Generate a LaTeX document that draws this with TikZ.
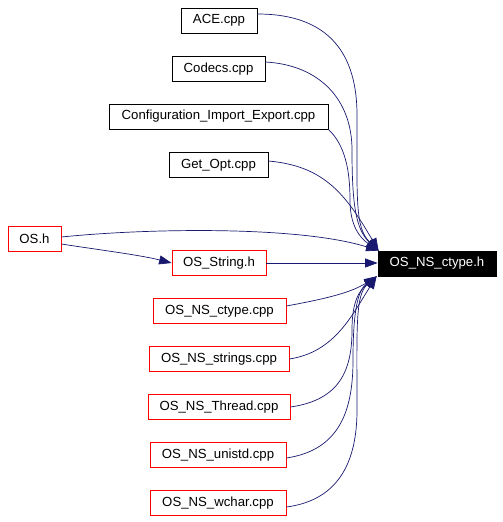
\documentclass[tikz,border=0pt]{standalone}
\usepackage{fontspec}
\setmainfont{Liberation Sans}
\usetikzlibrary{arrows.meta}
\definecolor{edgeblue}{RGB}{25,25,112}
\tikzset{
  box/.style={draw=black, line width=0.8pt, inner sep=0pt, minimum height=25pt, font=\fontsize{13.2}{15}\selectfont, anchor=center},
  redbox/.style={box, draw=red},
  mainbox/.style={box, draw=black, fill=black, text=white},
  dep/.style={draw=edgeblue, line width=0.7pt, -{Triangle[length=12.5pt,width=9pt]}},
}
\begin{document}
\begin{tikzpicture}[x=1pt,y=-1pt]
\useasboundingbox[fill=white] (0,0) rectangle (503,522);
\node[box, minimum width=76pt] (ace) at (219,20.5) {ACE.cpp};
\node[box, minimum width=93pt] (codecs) at (218.5,69) {Codecs.cpp};
\node[box, minimum width=219pt] (config) at (218.5,116.5) {Configuration\_Import\_Export.cpp};
\node[box, minimum width=99pt] (getopt) at (218.5,165) {Get\_Opt.cpp};
\node[redbox, minimum width=53pt] (osh) at (34.5,239) {OS.h};
\node[redbox, minimum width=94pt] (osstring) at (219,263) {OS\_String.h};
\node[mainbox, minimum width=118pt] (ctypeh) at (437,263.5) {OS\_NS\_ctype.h};
\node[redbox, minimum width=133pt] (ctypecpp) at (219.5,311) {OS\_NS\_ctype.cpp};
\node[redbox, minimum width=140pt] (strings) at (219,359) {OS\_NS\_strings.cpp};
\node[redbox, minimum width=142pt] (thread) at (219,407) {OS\_NS\_Thread.cpp};
\node[redbox, minimum width=136pt] (unistd) at (218,455) {OS\_NS\_unistd.cpp};
\node[redbox, minimum width=136pt] (wchar) at (218,503) {OS\_NS\_wchar.cpp};

\coordinate (tipT) at ([xshift=1pt]ctypeh.north west);
\coordinate (tipB) at ([xshift=-1pt]ctypeh.south west);

\draw[dep] ([yshift=6.5pt]ace.east) .. controls (330,14) and (357,55) .. (357,115) .. controls (357,200) and (355,228) .. (tipT);
\draw[dep] ([yshift=7pt]codecs.east) .. controls (320,65) and (352,100) .. (352,150) .. controls (352,205) and (356,230) .. (tipT);
\draw[dep] (config.south east) .. controls (345,145) and (350,170) .. (350,200) .. controls (350,226) and (360,238) .. (tipT);
\draw[dep] ([yshift=4pt]getopt.east) .. controls (325,166) and (346,195) .. (tipT);
\draw[dep] ([yshift=2pt]osh.east) .. controls (150,228) and (300,226) .. (tipT);
\draw[dep] ([yshift=-5pt]osh.east) .. controls (100,250) and (140,255) .. (osstring.west);
\draw[dep] (osstring.east) -- (ctypeh.west |- osstring.east);
\draw[dep] ([yshift=5pt]ctypecpp.east) .. controls (330,298) and (352,292) .. (tipB);
\draw[dep] (strings.east) .. controls (335,352) and (352,315) .. (tipB);
\draw[dep] (thread.east) .. controls (340,400) and (352,370) .. (352,330) .. controls (352,300) and (360,290) .. (tipB);
\draw[dep] ([yshift=-3pt]unistd.east) .. controls (340,450) and (353,410) .. (353,360) .. controls (353,310) and (358,290) .. (tipB);
\draw[dep] ([yshift=-4pt]wchar.east) .. controls (340,500) and (357,460) .. (357,410) .. controls (357,330) and (355,295) .. (tipB);
\end{tikzpicture}
\end{document}
